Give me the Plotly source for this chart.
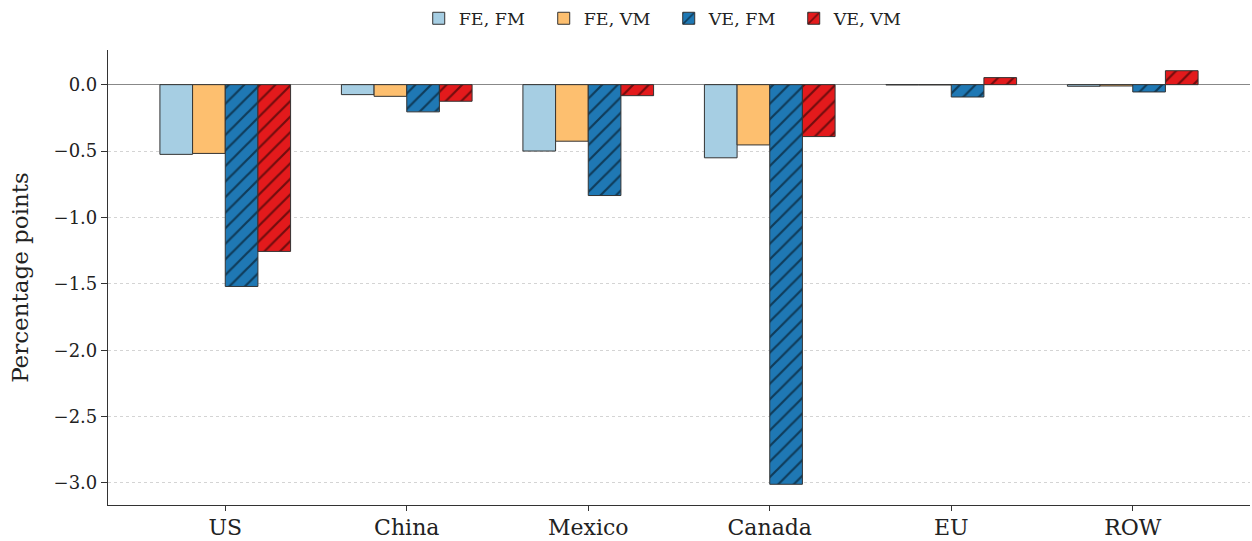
import plotly.graph_objects as go

regions = ["US", "China", "Mexico", "Canada", "EU", "ROW"]

fe_fm = [-0.525, -0.075, -0.500, -0.551, -0.002, -0.012]
fe_vm = [-0.518, -0.088, -0.426, -0.454, -0.002, -0.010]
ve_fm = [-1.520, -0.205, -0.835, -3.010, -0.093, -0.055]
ve_vm = [-1.256, -0.125, -0.083, -0.391, 0.053, 0.105]

series = [
    ("FE, FM", fe_fm, "#a6cee3", ""),
    ("FE, VM", fe_vm, "#fdbf6f", ""),
    ("VE, FM", ve_fm, "#1f78b4", "/"),
    ("VE, VM", ve_vm, "#e31a1c", "/"),
]

fig = go.Figure()
for name, vals, color, hatch in series:
    fig.add_trace(go.Bar(
        x=regions, y=vals, name=name,
        marker=dict(
            color=color,
            line=dict(color="#333333", width=1),
            pattern=dict(shape=hatch, fgcolor="#000000", bgcolor=color,
                         size=11, solidity=0.2, fillmode="overlay"),
        ),
    ))

font_family = "DejaVu Serif"
yticks = [0.0, -0.5, -1.0, -1.5, -2.0, -2.5, -3.0]

fig.update_layout(
    width=1252, height=541,
    margin=dict(l=108, r=2, t=50, b=36, autoexpand=False),
    paper_bgcolor="white", plot_bgcolor="white",
    barmode="group", bargap=0.28, bargroupgap=0,
    font=dict(family=font_family, size=17, color="#222222"),
    legend=dict(orientation="h", x=0.491, xanchor="center",
                yref="container", y=0.966, yanchor="middle",
                font=dict(family=font_family, size=17.5), traceorder="normal",
                entrywidth=80),
    xaxis=dict(
        range=[-0.646, 5.646], automargin=False,
        showline=True, linecolor="#333333", linewidth=1.2,
        ticks="outside", ticklen=5, tickcolor="#333333",
        ticklabelstandoff=-3,
        showgrid=False, zeroline=False,
        tickfont=dict(family=font_family, size=22),
    ),
    yaxis=dict(
        range=[-3.166, 0.261], automargin=False,
        tickvals=yticks, tickformat=".1f",
        showline=True, linecolor="#333333", linewidth=1.2,
        ticks="outside", ticklen=6, tickcolor="#333333",
        showgrid=True, gridcolor="#d4d4d4", gridwidth=0.7, griddash="dot",
        zeroline=True, zerolinecolor="#888888", zerolinewidth=1.2,
        tickfont=dict(family=font_family, size=18),
        title=dict(text="Percentage points", font=dict(family=font_family, size=23),
                   standoff=18),
    ),
)

fig.write_html("out.html")
